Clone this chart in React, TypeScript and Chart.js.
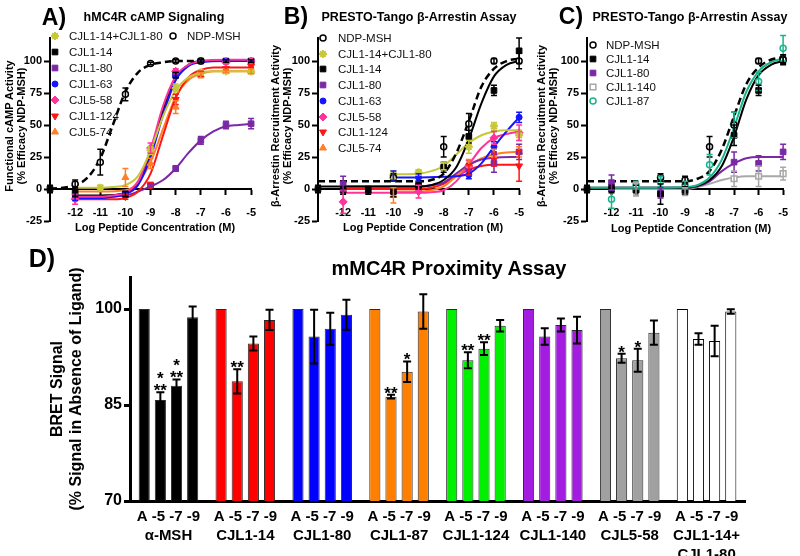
import React, { useEffect, useRef } from 'react';
import { Chart, registerables } from 'chart.js';

Chart.register(...registerables);

const FONT = 'Arial, "Liberation Sans", Helvetica, sans-serif';

// ---------- shared dose-response axes ----------
const doseTicks = [-12, -11, -10, -9, -8, -7, -6, -5];
const respTicks = [-25, 0, 25, 50, 75, 100];

// ---------- colours ----------
const C_NDP = '#000000';
const C_MIX = '#c6c83a';
const C_C14 = '#000000';
const C_C80 = '#7a28a6';
const C_C63 = '#1515ff';
const C_558 = '#ff3399';
const C_124 = '#ff1515';
const C_574 = '#ff7f27';
const C_140 = '#a8a8a8';
const C_C87 = '#1ab48c';

// ---------- Panel A: hMC4R cAMP signalling (curve [x,y], points [x,y,sem]) ----------
const aCurveNDP = [[-13, 0.3], [-12.5, 1], [-12, 3], [-11.5, 9], [-11, 24], [-10.5, 50], [-10, 76], [-9.5, 91], [-9, 97], [-8.5, 99], [-8, 100], [-7.5, 100], [-7, 100]];
const aPtsNDP = [[-12, 4, 3], [-11, 21, 10], [-10, 74, 5], [-9, 98, 1], [-8, 100, 1], [-7, 100, 1]];
const aCurveMix = [[-12, 1], [-11, 1], [-10.5, 1.5], [-10, 3], [-9.5, 10], [-9, 30], [-8.5, 57], [-8, 77], [-7.5, 87], [-7, 91], [-6.5, 92], [-6, 92], [-5, 92]];
const aPtsMix = [[-11, 1, 2], [-9, 30, 3], [-8, 79, 3], [-7, 91, 2], [-6, 92, 1], [-5, 92, 1]];
const aCurveC14 = [[-12, -5], [-11, -5], [-10, -3], [-9.5, 5], [-9, 28], [-8.5, 62], [-8, 87], [-7.5, 97], [-7, 100], [-6, 100.5], [-5, 100.5]];
const aPtsC14 = [[-13, 0, 3], [-12, -3, 3], [-10, -4, 2], [-8, 89, 2], [-7, 100, 1], [-6, 100, 1], [-5, 100, 1]];
const aCurveC80 = [[-12, -6], [-11, -6], [-10, -5], [-9.5, -2], [-9, 2], [-8.5, 7], [-8, 16], [-7.5, 28], [-7, 38], [-6.5, 45], [-6, 49], [-5.5, 50], [-5, 51]];
const aPtsC80 = [[-9, 3, 1], [-8, 16, 2], [-7, 38, 3], [-6, 50, 3], [-5, 51, 4]];
const aCurveC63 = [[-12, -7], [-11, -7], [-10.5, -6], [-10, -4], [-9.5, 3], [-9, 25], [-8.5, 58], [-8, 85], [-7.5, 96], [-7, 99], [-6, 100], [-5, 100]];
const aPtsC63 = [[-12, -7, 2], [-10, -4, 2], [-8, 89, 2], [-7, 100, 1], [-6, 100, 1], [-5, 100, 1]];
const aCurve558 = [[-12, -6], [-11, -6], [-10.5, -5], [-10, -3], [-9.5, 6], [-9, 31], [-8.5, 65], [-8, 88], [-7.5, 97], [-7, 100], [-6, 101], [-5, 101]];
const aPts558 = [[-12, -8, 4], [-9, 32, 4], [-8, 92, 2], [-6, 99, 1], [-5, 100, 1]];
const aCurve124 = [[-12, -8], [-11, -8], [-10.5, -8], [-10, -7], [-9.5, -2], [-9, 12], [-8.5, 42], [-8, 71], [-7.5, 87], [-7, 93], [-6.5, 95], [-6, 95], [-5, 95]];
const aPts124 = [[-10, -6, 2], [-9, 3, 2], [-8, 70, 4], [-7, 90, 2], [-6, 94, 1], [-5, 96, 1]];
const aCurve574 = [[-12, -2], [-11, -2], [-10, -1], [-9.5, 5], [-9, 21], [-8.5, 47], [-8, 72], [-7.5, 85], [-7, 90], [-6.5, 92], [-6, 92], [-5, 92]];
const aPts574 = [[-10, 9, 7], [-9, 20, 4], [-8, 64, 5], [-7, 89, 2], [-6, 92, 1], [-5, 92, 2]];

// ---------- Panel B: PRESTO-Tango ----------
const bCurveNDP = [[-13, 6], [-12, 6], [-11, 6], [-10, 6], [-9, 6], [-8.5, 7], [-8, 12], [-7.5, 28], [-7, 53], [-6.5, 80], [-6, 94], [-5.5, 100], [-5, 102]];
const bPtsNDP = [[-10, 9, 3], [-8, 33, 8], [-7, 51, 8], [-6, 100, 2], [-5, 100, 6]];
const bCurveMix = [[-10, 11.5], [-9, 12], [-8.5, 14], [-8, 18], [-7.5, 27], [-7, 36], [-6.5, 42], [-6, 45], [-5.5, 46], [-5, 46]];
const bPtsMix = [[-10, 11, 3], [-9, 13, 2], [-8, 18, 3], [-7, 33, 5], [-6, 49, 3], [-5, 42, 4]];
const bCurveC14 = [[-13, 2], [-12, 2], [-11, 2], [-10, 2], [-9, 2], [-8.5, 3], [-8, 7], [-7.5, 17], [-7, 39], [-6.5, 67], [-6, 88], [-5.5, 97], [-5, 100]];
const bPtsC14 = [[-13, 0, 3], [-12, -1, 3], [-11, -1, 3], [-10, -2, 4], [-9, 3, 3], [-8, 17, 4], [-7, 41, 5], [-6, 77, 4], [-5, 108, 10]];
const bCurveC80 = [[-12, 2], [-11, 2], [-10, 2], [-9, 2], [-8.5, 3], [-8, 5], [-7.5, 12], [-7, 19], [-6.5, 23], [-6, 24.5], [-5, 25]];
const bPtsC80 = [[-12, 4, 6], [-7, 17, 3], [-6, 20, 7], [-5, 29, 6]];
const bCurveC63 = [[-10, 9], [-9, 9], [-8, 9.5], [-7.5, 10], [-7, 12], [-6.5, 20], [-6, 33], [-5.5, 45], [-5, 56]];
const bPtsC63 = [[-10, 10, 4], [-9, 9, 3], [-7, 11, 3], [-6, 33, 4], [-5, 56, 4]];
const bCurve558 = [[-12, -3], [-11, -3], [-10, -3], [-9, -3], [-8.5, -2.5], [-8, -1], [-7.5, 6], [-7, 19], [-6.5, 32], [-6, 40], [-5.5, 43], [-5, 45]];
const bPts558 = [[-12, -10, 9], [-9, -2, 5], [-7, 18, 4], [-6, 40, 5], [-5, 44, 6]];
const bCurve124 = [[-12, 0], [-11, 0], [-10, 0], [-9, 0], [-8.5, 1], [-8, 4], [-7.5, 10], [-7, 15], [-6.5, 18], [-6, 19], [-5, 19]];
const bPts124 = [[-7, 15, 4], [-6, 23, 5], [-5, 18, 12]];
const bCurve574 = [[-10, -2], [-9, -2], [-8.5, -1], [-8, 2], [-7.5, 10], [-7, 18], [-6.5, 24], [-6, 27], [-5.5, 28.5], [-5, 29]];
const bPts574 = [[-10, -5, 6], [-7, 20, 3], [-6, 28, 3], [-5, 29, 4]];

// ---------- Panel C: PRESTO-Tango ----------
const cCurveNDP = [[-13, 6], [-12, 6], [-11, 6], [-10, 6], [-9, 6], [-8.5, 8], [-8, 14], [-7.5, 31], [-7, 57], [-6.5, 82], [-6, 95], [-5.5, 101], [-5, 103]];
const cPtsNDP = [[-10, 9, 3], [-9, 7, 3], [-8, 33, 8], [-7, 50, 10], [-6, 100, 2], [-5, 101, 3]];
const cCurveC14 = [[-13, 1], [-12, 1], [-11, 1], [-10, 1], [-9, 1], [-8.5, 2.5], [-8, 7], [-7.5, 18], [-7, 41], [-6.5, 70], [-6, 89], [-5.5, 97], [-5, 100]];
const cPtsC14 = [[-13, 0, 3], [-12, 0, 3], [-11, -1, 4], [-10, -4, 8], [-9, -1, 3], [-7, 42, 8], [-6, 77, 4], [-5, 101, 4]];
const cCurveC80 = [[-12, 1], [-11, 1], [-10, 1], [-9, 1], [-8.5, 2], [-8, 6], [-7.5, 14], [-7, 20], [-6.5, 24], [-6, 25], [-5, 25]];
const cPtsC80 = [[-12, 5, 6], [-10, -3, 4], [-7, 21, 8], [-6, 20, 6], [-5, 29, 6]];
const cCurve140 = [[-12, 0], [-11, 0], [-10, 0], [-9, 0], [-8.5, 1.5], [-8, 4], [-7.5, 7], [-7, 9], [-6.5, 10], [-6, 10], [-5, 10]];
const cPts140 = [[-11, 0, 5], [-9, -2, 3], [-7, 8, 6], [-6, 10, 8], [-5, 12, 5]];
const cCurveC87 = [[-13, 1], [-12, 1], [-11, 1], [-10, 1], [-9, 1.5], [-8.5, 3], [-8, 9], [-7.5, 23], [-7, 48], [-6.5, 76], [-6, 92], [-5.5, 99], [-5, 102]];
const cPtsC87 = [[-12, -8, 7], [-11, 3, 3], [-10, 6, 4], [-9, 3, 3], [-8, 19, 8], [-7, 50, 10], [-6, 84, 7], [-5, 110, 10]];

// ---------- Panel D: mMC4R proximity (BRET) ----------
const dConc = ['A', '-5', '-7', '-9'];
const dGroups = ['α-MSH', 'CJL1-14', 'CJL1-80', 'CJL1-87', 'CJL1-124', 'CJL1-140', 'CJL5-58', 'CJL1-14+|CJL1-80'];
const dColors = ['#000000', '#ff0000', '#0000ff', '#ff8000', '#00f000', '#a31de0', '#a0a0a0', '#ffffff'];
const dTicks = [70, 85, 100];
const dValA = [100, 100, 100, 100, 100, 100, 100, 100];
const dVal5 = [85.8, 88.7, 95.7, 86.3, 92.0, 95.7, 92.3, 95.3];
const dErr5 = [1.2, 1.9, 4.2, 0.3, 1.25, 1.3, 0.7, 0.9];
const dVal7 = [88.0, 94.6, 96.9, 90.2, 93.8, 97.5, 92.0, 95.0];
const dErr7 = [1.0, 1.1, 2.5, 1.6, 1.0, 1.0, 1.8, 2.4];
const dVal9 = [98.7, 98.3, 99.1, 99.6, 97.4, 96.7, 96.3, 99.6];
const dErr9 = [1.7, 1.6, 2.35, 2.7, 0.9, 2.1, 1.9, 0.35];
const dSig5 = ['*|**', '**', '', '**', '**', '', '*', ''];
const dSig7 = ['*|**', '', '', '*', '**', '', '*', ''];

// ---------- drawing helpers ----------
function drawSym(ctx: CanvasRenderingContext2D, style: string, x: number, y: number, r: number, color: string, open: boolean, rot: number) {
  ctx.save();
  ctx.translate(x, y);
  if (rot) ctx.rotate((rot * Math.PI) / 180);
  ctx.strokeStyle = color;
  ctx.fillStyle = open ? '#fff' : color;
  ctx.lineWidth = open ? 1.5 : 1;
  ctx.beginPath();
  if (style === 'circle') {
    ctx.arc(0, 0, r, 0, Math.PI * 2);
  } else if (style === 'rect') {
    const s = r * Math.SQRT1_2;
    ctx.rect(-s, -s, 2 * s, 2 * s);
  } else if (style === 'rectRot') {
    ctx.moveTo(0, -r); ctx.lineTo(r, 0); ctx.lineTo(0, r); ctx.lineTo(-r, 0); ctx.closePath();
  } else if (style === 'triangle') {
    for (let k = 0; k < 3; k++) {
      const a = -Math.PI / 2 + (k * 2 * Math.PI) / 3;
      if (k === 0) ctx.moveTo(r * Math.cos(a), r * Math.sin(a)); else ctx.lineTo(r * Math.cos(a), r * Math.sin(a));
    }
    ctx.closePath();
  } else if (style === 'star') {
    ctx.lineWidth = 2;
    for (let k = 0; k < 4; k++) {
      const a = (k * Math.PI) / 4;
      ctx.moveTo(-r * Math.cos(a), -r * Math.sin(a));
      ctx.lineTo(r * Math.cos(a), r * Math.sin(a));
    }
    ctx.stroke();
    ctx.restore();
    return;
  }
  ctx.fill();
  ctx.stroke();
  ctx.restore();
}

const errorBarPlugin = {
  id: 'errorBars',
  afterDatasetsDraw(chart: any) {
    const ctx = chart.ctx;
    const ys = chart.scales.y;
    chart.data.datasets.forEach((ds: any, i: number) => {
      if (!ds.errColor) return;
      const meta = chart.getDatasetMeta(i);
      meta.data.forEach((el: any, j: number) => {
        const d = ds.data[j];
        const v = typeof d === 'number' ? d : d.y;
        const e = typeof d === 'number' ? (ds.errs ? ds.errs[j] : 0) : d.e;
        if (!e) return;
        const x = el.x;
        const y1 = ys.getPixelForValue(v + e);
        const y2 = ys.getPixelForValue(v - e);
        const cap = ds.errCap || 3;
        ctx.save();
        ctx.strokeStyle = ds.errColor;
        ctx.lineWidth = ds.errWidth || 1.5;
        ctx.beginPath();
        ctx.moveTo(x, y1); ctx.lineTo(x, y2);
        ctx.moveTo(x - cap, y1); ctx.lineTo(x + cap, y1);
        ctx.moveTo(x - cap, y2); ctx.lineTo(x + cap, y2);
        ctx.stroke();
        ctx.restore();
      });
    });
  },
};

const sigPlugin = {
  id: 'sigStars',
  afterDatasetsDraw(chart: any) {
    const ctx = chart.ctx;
    const ys = chart.scales.y;
    chart.data.datasets.forEach((ds: any, i: number) => {
      if (!ds.sig) return;
      const meta = chart.getDatasetMeta(i);
      meta.data.forEach((el: any, j: number) => {
        const s = ds.sig[j];
        if (!s) return;
        const lines = s.split('|');
        const top = ys.getPixelForValue(ds.data[j] + (ds.errs ? ds.errs[j] : 0));
        ctx.save();
        ctx.fillStyle = '#000';
        ctx.font = `bold 17px ${FONT}`;
        ctx.textAlign = 'center';
        ctx.textBaseline = 'alphabetic';
        lines.forEach((ln: string, k: number) => {
          ctx.fillText(ln, el.x, top + 4 - (lines.length - 1 - k) * 12);
        });
        ctx.restore();
      });
    });
  },
};

type LegendItem = { label: string; style: string; color: string; open?: boolean; rot?: number; sx: number; tx: number; y: number };

function legendPlugin(items: LegendItem[]) {
  return {
    id: 'drLegend',
    afterDraw(chart: any) {
      const ctx = chart.ctx;
      items.forEach((it) => {
        drawSym(ctx, it.style, it.sx, it.y, it.style === 'circle' ? 3 : 4, it.color, !!it.open, it.rot || 0);
        ctx.save();
        ctx.fillStyle = '#111';
        ctx.font = `11.5px ${FONT}`;
        ctx.textAlign = 'left';
        ctx.textBaseline = 'middle';
        ctx.fillText(it.label, it.tx, it.y + 0.5);
        ctx.restore();
      });
    },
  };
}

type Series = { label: string; curve: number[][]; pts: number[][]; color: string; style: string; open?: boolean; rot?: number; dashed?: boolean };

function drConfig(series: Series[], legend: LegendItem[], padRight: number) {
  const datasets: any[] = [];
  series.forEach((s, idx) => {
    datasets.push({
      label: s.label + ' fit',
      data: s.curve.map(([x, y]) => ({ x, y })),
      borderColor: s.color,
      borderWidth: s.dashed ? 2.5 : 2,
      borderDash: s.dashed ? [7, 4] : [],
      pointRadius: 0,
      pointHoverRadius: 0,
      cubicInterpolationMode: 'monotone',
      fill: false,
      clip: false,
      order: 20 + idx,
    });
    datasets.push({
      label: s.label,
      data: s.pts.map(([x, y, e]) => ({ x, y, e })),
      showLine: false,
      pointStyle: s.style,
      pointRotation: s.rot || 0,
      pointRadius: s.style === 'circle' ? 3 : 4,
      pointHoverRadius: s.style === 'circle' ? 3 : 4,
      pointBackgroundColor: s.open ? '#ffffff' : s.color,
      pointBorderColor: s.color,
      pointBorderWidth: s.style === 'star' ? 2 : s.open ? 1.5 : 1,
      clip: false,
      errColor: s.color,
      errCap: 3,
      errWidth: 1.5,
      order: idx,
    });
  });
  const tickFont = { family: FONT, size: 11, weight: 'bold' as const };
  return {
    type: 'line',
    data: { datasets },
    options: {
      responsive: false,
      animation: false,
      events: [],
      devicePixelRatio: 1,
      layout: { padding: { top: 38, right: padRight, bottom: 19, left: 0 } },
      plugins: { legend: { display: false }, tooltip: { enabled: false }, title: { display: false } },
      scales: {
        x: {
          type: 'linear',
          min: -13,
          max: -5,
          position: { y: 0 },
          afterBuildTicks: (s: any) => { s.ticks = doseTicks.map((v) => ({ value: v })); },
          afterFit: (s: any) => { s.height = 0; },
          border: { color: '#000', width: 2 },
          grid: { drawOnChartArea: false, tickLength: 5, tickColor: '#000', tickWidth: 2 },
          ticks: { color: '#000', font: tickFont, padding: 12, autoSkip: false, maxRotation: 0 },
        },
        y: {
          type: 'linear',
          min: -25,
          max: 118,
          afterBuildTicks: (s: any) => { s.ticks = respTicks.map((v) => ({ value: v })); },
          afterFit: (s: any) => { s.width = 50; },
          border: { color: '#000', width: 2 },
          grid: { drawOnChartArea: false, tickLength: 6, tickColor: '#000', tickWidth: 2 },
          ticks: { color: '#000', font: tickFont, padding: 2 },
        },
      },
    },
    plugins: [errorBarPlugin, legendPlugin(legend)],
  };
}

function barConfig() {
  const labels = dGroups.map((g) => [dConc.join(' '), ...g.split('|')]);
  const border = dColors.map((c) => (c === '#ffffff' ? '#000000' : '#2a2a2a'));
  const mk = (label: string, data: number[], errs: number[] | null, sig: string[] | null) => ({
    label,
    data,
    backgroundColor: dColors,
    borderColor: border,
    borderWidth: 1,
    errs,
    sig,
    errColor: errs ? '#000000' : undefined,
    errCap: 4,
    errWidth: 2,
  });
  return {
    type: 'bar',
    data: {
      labels,
      datasets: [mk('A', dValA, null, null), mk('-5', dVal5, dErr5, dSig5), mk('-7', dVal7, dErr7, dSig7), mk('-9', dVal9, dErr9, null)],
    },
    options: {
      responsive: false,
      animation: false,
      events: [],
      devicePixelRatio: 1,
      categoryPercentage: 0.84,
      barPercentage: 0.69,
      layout: { padding: { top: 37, right: 55, bottom: 0, left: 0 } },
      plugins: { legend: { display: false }, tooltip: { enabled: false } },
      scales: {
        x: {
          afterFit: (s: any) => { s.height = 55; },
          border: { color: '#000', width: 3 },
          grid: { display: false },
          ticks: { color: '#000', font: { family: FONT, size: 15, weight: 'bold', lineHeight: '19px' }, padding: -2, autoSkip: false, maxRotation: 0 },
        },
        y: {
          min: 70,
          max: 105,
          afterBuildTicks: (s: any) => { s.ticks = dTicks.map((v) => ({ value: v })); },
          afterFit: (s: any) => { s.width = 130; },
          border: { color: '#000', width: 3 },
          grid: { drawOnChartArea: false, tickLength: 6, tickColor: '#000', tickWidth: 3 },
          ticks: { color: '#000', font: { family: FONT, size: 16, weight: 'bold' }, padding: 2 },
        },
      },
    },
    plugins: [errorBarPlugin, sigPlugin],
  };
}

function ChartBox({ config, left, top, width, height }: { config: any; left: number; top: number; width: number; height: number }) {
  const ref = useRef<HTMLCanvasElement | null>(null);
  useEffect(() => {
    if (!ref.current) return;
    const chart = new Chart(ref.current, config);
    return () => chart.destroy();
  }, []);
  return (
    <canvas ref={ref} width={width} height={height} style={{ position: 'absolute', left, top, width, height }} />
  );
}

function T({ x, y, s, size, bold = true, rot = false }: { x: number; y: number; s: string; size: number; bold?: boolean; rot?: boolean }) {
  return (
    <div
      style={{
        position: 'absolute',
        left: x,
        top: y,
        transform: `translate(-50%, -50%)${rot ? ' rotate(-90deg)' : ''}`,
        fontFamily: FONT,
        fontSize: size,
        fontWeight: bold ? 'bold' : 'normal',
        whiteSpace: 'nowrap',
        lineHeight: 1,
        color: '#000',
      }}
    >
      {s}
    </div>
  );
}

const seriesA: Series[] = [
  { label: 'NDP-MSH', curve: aCurveNDP, pts: aPtsNDP, color: C_NDP, style: 'circle', open: true, dashed: true },
  { label: 'CJL1-14+CJL1-80', curve: aCurveMix, pts: aPtsMix, color: C_MIX, style: 'star' },
  { label: 'CJL5-58', curve: aCurve558, pts: aPts558, color: C_558, style: 'rectRot' },
  { label: 'CJL1-63', curve: aCurveC63, pts: aPtsC63, color: C_C63, style: 'circle' },
  { label: 'CJL1-124', curve: aCurve124, pts: aPts124, color: C_124, style: 'triangle', rot: 180 },
  { label: 'CJL5-74', curve: aCurve574, pts: aPts574, color: C_574, style: 'triangle' },
  { label: 'CJL1-80', curve: aCurveC80, pts: aPtsC80, color: C_C80, style: 'rect' },
  { label: 'CJL1-14', curve: aCurveC14, pts: aPtsC14, color: C_C14, style: 'rect' },
];

const seriesB: Series[] = [
  { label: 'NDP-MSH', curve: bCurveNDP, pts: bPtsNDP, color: C_NDP, style: 'circle', open: true, dashed: true },
  { label: 'CJL1-14', curve: bCurveC14, pts: bPtsC14, color: C_C14, style: 'rect' },
  { label: 'CJL1-14+CJL1-80', curve: bCurveMix, pts: bPtsMix, color: C_MIX, style: 'star' },
  { label: 'CJL1-63', curve: bCurveC63, pts: bPtsC63, color: C_C63, style: 'circle' },
  { label: 'CJL5-58', curve: bCurve558, pts: bPts558, color: C_558, style: 'rectRot' },
  { label: 'CJL1-80', curve: bCurveC80, pts: bPtsC80, color: C_C80, style: 'rect' },
  { label: 'CJL5-74', curve: bCurve574, pts: bPts574, color: C_574, style: 'triangle' },
  { label: 'CJL1-124', curve: bCurve124, pts: bPts124, color: C_124, style: 'triangle', rot: 180 },
];

const seriesC: Series[] = [
  { label: 'NDP-MSH', curve: cCurveNDP, pts: cPtsNDP, color: C_NDP, style: 'circle', open: true, dashed: true },
  { label: 'CJL1-87', curve: cCurveC87, pts: cPtsC87, color: C_C87, style: 'circle', open: true },
  { label: 'CJL1-14', curve: cCurveC14, pts: cPtsC14, color: C_C14, style: 'rect' },
  { label: 'CJL1-80', curve: cCurveC80, pts: cPtsC80, color: C_C80, style: 'rect' },
  { label: 'CJL1-140', curve: cCurve140, pts: cPts140, color: C_140, style: 'rect', open: true },
];

const legendA: LegendItem[] = [
  { label: 'CJL1-14+CJL1-80', style: 'star', color: C_MIX, sx: 55, tx: 69, y: 36 },
  { label: 'CJL1-14', style: 'rect', color: C_C14, sx: 55, tx: 69, y: 52 },
  { label: 'CJL1-80', style: 'rect', color: C_C80, sx: 55, tx: 69, y: 68 },
  { label: 'CJL1-63', style: 'circle', color: C_C63, sx: 55, tx: 69, y: 84 },
  { label: 'CJL5-58', style: 'rectRot', color: C_558, sx: 55, tx: 69, y: 100 },
  { label: 'CJL1-124', style: 'triangle', rot: 180, color: C_124, sx: 55, tx: 69, y: 116 },
  { label: 'CJL5-74', style: 'triangle', color: C_574, sx: 55, tx: 69, y: 132 },
  { label: 'NDP-MSH', style: 'circle', open: true, color: C_NDP, sx: 173, tx: 187, y: 36 },
];

const legendB: LegendItem[] = [
  { label: 'NDP-MSH', style: 'circle', open: true, color: C_NDP, sx: 55, tx: 70, y: 38 },
  { label: 'CJL1-14+CJL1-80', style: 'star', color: C_MIX, sx: 55, tx: 70, y: 54 },
  { label: 'CJL1-14', style: 'rect', color: C_C14, sx: 55, tx: 70, y: 69 },
  { label: 'CJL1-80', style: 'rect', color: C_C80, sx: 55, tx: 70, y: 85 },
  { label: 'CJL1-63', style: 'circle', color: C_C63, sx: 55, tx: 70, y: 101 },
  { label: 'CJL5-58', style: 'rectRot', color: C_558, sx: 55, tx: 70, y: 117 },
  { label: 'CJL1-124', style: 'triangle', rot: 180, color: C_124, sx: 55, tx: 70, y: 132 },
  { label: 'CJL5-74', style: 'triangle', color: C_574, sx: 55, tx: 70, y: 148 },
];

const legendC: LegendItem[] = [
  { label: 'NDP-MSH', style: 'circle', open: true, color: C_NDP, sx: 56, tx: 69, y: 45 },
  { label: 'CJL1-14', style: 'rect', color: C_C14, sx: 56, tx: 69, y: 59 },
  { label: 'CJL1-80', style: 'rect', color: C_C80, sx: 56, tx: 69, y: 73 },
  { label: 'CJL1-140', style: 'rect', open: true, color: C_140, sx: 56, tx: 69, y: 87 },
  { label: 'CJL1-87', style: 'circle', open: true, color: C_C87, sx: 56, tx: 69, y: 101 },
];

export default function App() {
  return (
    <div style={{ position: 'absolute', left: 0, top: 0, width: 800, height: 556, background: '#fff', overflow: 'hidden' }}>
      <ChartBox config={drConfig(seriesA, legendA, 8)} left={0} top={0} width={268} height={240} />
      <ChartBox config={drConfig(seriesB, legendB, 9)} left={268} top={0} width={268} height={240} />
      <ChartBox config={drConfig(seriesC, legendC, 6)} left={537} top={0} width={263} height={240} />
      <ChartBox config={barConfig()} left={0} top={240} width={800} height={316} />

      <T x={54} y={17} s="A)" size={23} />
      <T x={154} y={17} s="hMC4R cAMP Signaling" size={12.5} />
      <T x={296} y={16} s="B)" size={23} />
      <T x={419} y={17} s="PRESTO-Tango β-Arrestin Assay" size={12.5} />
      <T x={571} y={16} s="C)" size={23} />
      <T x={690} y={17} s="PRESTO-Tango β-Arrestin Assay" size={12.5} />

      <T x={9} y={126} s="Functional cAMP Activity" size={11} rot />
      <T x={21} y={126} s="(% Efficacy NDP-MSH)" size={11} rot />
      <T x={275} y={126} s="β-Arrestin Recruitment Activity" size={11} rot />
      <T x={287} y={126} s="(% Efficacy NDP-MSH)" size={11} rot />
      <T x={541} y={126} s="β-Arrestin Recruitment Activity" size={11} rot />
      <T x={553} y={126} s="(% Efficacy NDP-MSH)" size={11} rot />

      <T x={155} y={227} s="Log Peptide Concentration (M)" size={11} />
      <T x={423} y={227} s="Log Peptide Concentration (M)" size={11} />
      <T x={691} y={228} s="Log Peptide Concentration (M)" size={11} />

      <T x={42} y={258} s="D)" size={25} />
      <T x={449} y={268} s="mMC4R Proximity Assay" size={20} />
      <T x={57} y={389} s="BRET Signal" size={16} rot />
      <T x={76} y={389} s="(% Signal in Absence of Ligand)" size={16} rot />
    </div>
  );
}
